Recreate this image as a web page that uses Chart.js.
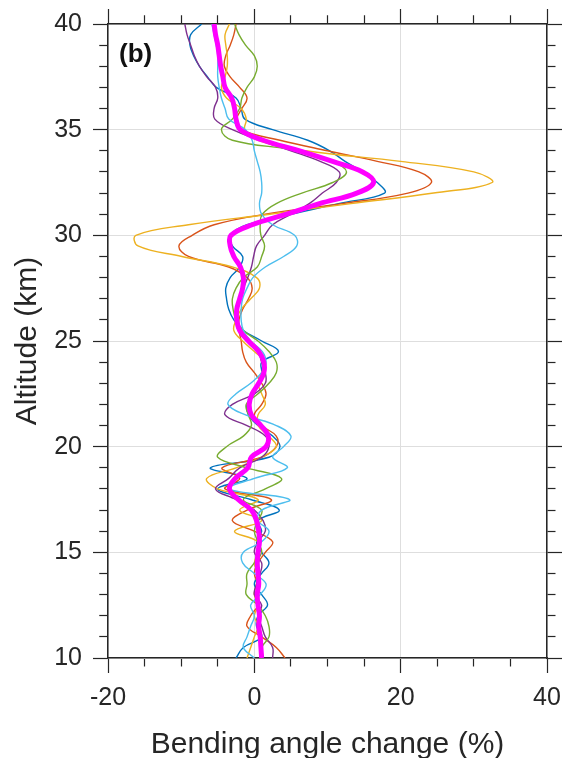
<!DOCTYPE html>
<html>
<head>
<meta charset="utf-8">
<script src="https://cdn.jsdelivr.net/npm/chart.js@4.4.1/dist/chart.umd.min.js"></script>
<style>
  html, body { margin: 0; padding: 0; background: #fff; }
  #wrap { position: relative; width: 564px; height: 758px; }
  #panelLabel {
    position: absolute; left: 119px; top: 40px;
    font: bold 26px "Liberation Sans", Arial, sans-serif;
    line-height: 26px; color: #111;
  }
</style>
</head>
<body>
<div id="wrap">
  <canvas id="profileChart" width="564" height="758"></canvas>
  <div id="panelLabel">(b)</div>
</div>
<script>
// altitude levels (km), top to bottom
const altitudeKm = [40, 39.5, 39, 38.5, 38, 37.5, 37, 36.5, 36, 35.5,
  35, 34.5, 34, 33.5, 33, 32.5, 32, 31.5, 31, 30.5,
  30, 29.5, 29, 28.5, 28, 27.5, 27, 26.5, 26, 25.5,
  25, 24.5, 24, 23.5, 23, 22.5, 22, 21.5, 21, 20.5,
  20, 19.5, 19, 18.5, 18, 17.5, 17, 16.5, 16, 15.5,
  15, 14.5, 14, 13.5, 13, 12.5, 12, 11.5, 11, 10.5,
  10];

// bending angle change (%) per profile, same order as altitudeKm
const profileBlue = [-7.2, -8.7, -8.8, -8.3, -7.5, -6.4, -5.2, -2.5, -1.8, -1.3,
  2.5, 7.3, 10.3, 12.4, 14.8, 16.8, 17.8, 11.5, 5.0, -1.0,
  -3.3, -3.0, -1.6, -2.0, -3.3, -3.9, -3.8, -3.5, -2.8, -1.5,
  1.0, 3.3, 1.0, 1.0, 0.5, 0.0, -1.0, -0.8, 0.5, 2.5,
  3.5, 2.0, -6.0, -1.0, -5.0, -0.5, 3.4, 0.5, 1.0, 0.3,
  1.0, 2.0, 1.0, 0.0, 1.0, 1.8, 0.5, 0.3, 1.0, -1.5,
  -2.5];
const profileOrange = [-2.5, -2.8, -3.3, -3.9, -4.1, -3.3, -2.0, -1.0, -1.7, -2.4,
  -1.8, 3.5, 10.0, 16.8, 22.5, 24.2, 21.0, 12.0, 1.5, -5.5,
  -8.5, -10.3, -9.0, -3.5, -1.0, -0.3, -0.8, -1.6, -2.1, -2.1,
  -1.8, -1.6, -1.1, 0.0, 1.0, 1.6, 1.0, 0.0, 1.0, 3.0,
  3.0, 1.0, -4.4, -2.0, -4.0, 2.3, -1.0, -3.0, 0.0, 2.5,
  1.5, 0.5, 0.0, 0.5, 0.5, 0.5, -0.5, -1.0, 1.0, 3.0,
  4.2];
const profileYellow = [-3.4, -4.0, -3.9, -3.7, -3.7, -4.0, -4.5, -3.8, -1.8, -1.1,
  -1.3, 0.5, 7.0, 20.0, 30.0, 32.5, 24.5, 13.2, 2.1, -9.0,
  -16.2, -15.9, -9.9, -3.0, 0.3, 0.7, -0.5, -1.8, -2.5, -2.8,
  -1.6, 0.0, 1.5, 1.0, 0.5, 1.0, 1.5, 0.5, 0.5, 2.0,
  3.0, 1.0, -2.5, -6.5, -5.0, 0.5, -2.0, 1.0, -2.7, 0.5,
  0.5, 0.0, 0.5, 0.3, 0.0, 0.5, 0.0, 0.5, 0.0, -0.5,
  -1.0];
const profilePurple = [-9.5, -9.2, -8.7, -8.2, -7.5, -6.5, -5.3, -5.0, -5.5, -5.4,
  -3.0, 0.8, 5.0, 9.0, 11.6, 11.2, 9.3, 7.5, 5.0, 2.5,
  1.4, 0.3, -0.1, -0.4, -0.9, -1.5, -2.0, -2.3, -2.5, -2.2,
  -1.0, 0.5, 1.0, 1.5, 1.5, 0.0, -3.0, -4.0, -1.0, 1.5,
  2.0, 1.0, -2.0, -3.5, -5.3, -2.5, 0.0, 1.2, 1.5, 0.5,
  0.0, 1.0, 0.8, 0.3, 0.0, 1.0, 0.5, 1.0, 1.5, 2.5,
  2.5];
const profileGreen = [-2.7, -2.1, -1.2, 0.0, 0.4, 0.0, -1.0, -1.7, -2.0, -3.0,
  -4.5, -3.0, 6.0, 10.7, 12.6, 10.7, 6.5, 3.0, 1.1, 0.8,
  0.9, 1.4, 1.0, 0.4, -1.5, -2.5, -3.0, -2.9, -2.5, -1.5,
  0.5, 2.0, 3.0, 3.0, 2.0, 0.5, -1.1, -0.8, -0.4, -1.5,
  -3.8, -5.0, -1.0, 3.7, 1.5, -1.5, 1.0, 0.5, 0.0, 0.5,
  1.0, 0.0, -1.0, -1.0, -1.1, 0.5, 1.5, 2.0, 2.0, 1.0,
  1.0];
const profileCyan = [-5.8, -5.5, -5.2, -5.0, -5.0, -5.0, -4.8, -4.5, -4.0, -3.5,
  -1.2, -0.3, 0.0, 0.4, 0.8, 1.0, 1.0, 0.7, 1.0, 2.5,
  5.5, 5.8, 4.0, 1.5, -0.2, -1.0, -1.6, -1.8, -1.8, -1.5,
  -0.5, 1.1, 1.6, 1.0, -0.5, -2.5, -3.6, -1.2, 3.0, 5.0,
  4.0, 2.5, 4.5, 0.0, -3.5, 4.8, 1.0, 0.5, 2.0, 1.0,
  -1.5, -1.6, 0.0, 1.6, 0.8, -0.5, 0.0, -0.5, -1.0, -1.5,
  0.0];
const profileMean = [-5.5, -5.3, -5.0, -4.8, -4.6, -4.3, -4.0, -3.1, -2.7, -2.5,
  -1.9, 1.2, 6.2, 10.7, 14.8, 16.3, 14.0, 8.9, 4.4, -0.3,
  -3.2, -3.3, -2.8, -1.9, -1.5, -1.6, -2.0, -2.4, -2.4, -2.0,
  -0.8, 0.6, 1.3, 1.3, 0.6, -0.3, -0.7, -0.4, 0.9, 1.9,
  1.6, -0.4, -0.9, -2.6, -3.4, -2.2, -0.4, 0.3, 0.6, 0.7,
  0.5, 0.4, 0.5, 0.6, 0.4, 0.5, 0.7, 0.6, 0.8, 0.9,
  1.0];

const axisColor = "#262626";
const gridColor = "#dedede";
const fontFamily = '"Liberation Sans", Arial, sans-serif';

function profile(values) {
  return values.map((v, i) => ({ x: v, y: altitudeKm[i] }));
}

function isMajor(value, step) {
  return Math.abs(value % step) < 1e-9;
}

// major ticks full length, minor ticks drawn only on the inner 8px
function tickGrid(step, outerFirst, onChart) {
  return {
    drawOnChartArea: onChart,
    color: ctx => (ctx.tick && isMajor(ctx.tick.value, step)) ? gridColor : "rgba(0,0,0,0)",
    lineWidth: 1,
    tickLength: 15,
    tickColor: axisColor,
    tickWidth: 1.2,
    tickBorderDash: ctx => (ctx.tick && isMajor(ctx.tick.value, step)) ? [] : (outerFirst ? [8, 8] : [8, 40]),
    tickBorderDashOffset: ctx => (ctx.tick && isMajor(ctx.tick.value, step)) ? 0 : (outerFirst ? 9.75 : 0)
  };
}

const border = { display: true, color: axisColor, width: 1.5 };

const thin = (data, color, order) => ({
  data: profile(data),
  borderColor: color,
  borderWidth: 1.4,
  order: order
});

new Chart(document.getElementById("profileChart"), {
  type: "scatter",
  data: {
    datasets: [
      { data: profile(profileMean), borderColor: "#FF00FF", borderWidth: 5, order: 0 },
      thin(profileCyan, "#4DBEEE", 1),
      thin(profileGreen, "#77AC30", 2),
      thin(profilePurple, "#7E2F8E", 3),
      thin(profileYellow, "#EDB120", 4),
      thin(profileOrange, "#D95319", 5),
      thin(profileBlue, "#0072BD", 6)
    ]
  },
  options: {
    responsive: false,
    animation: false,
    events: [],
    layout: { padding: 0 },
    datasets: {
      scatter: { showLine: true, pointRadius: 0, tension: 0.4, fill: false }
    },
    plugins: {
      legend: { display: false },
      tooltip: { enabled: false }
    },
    scales: {
      x: {
        type: "linear", position: "bottom", min: -20, max: 40,
        afterFit: s => { s.height = 100; s.paddingLeft = 0; s.paddingRight = 0; },
        ticks: {
          stepSize: 5, autoSkip: false, maxRotation: 0, padding: 10,
          color: axisColor, font: { family: fontFamily, size: 25 },
          callback: v => isMajor(v, 20) ? v : ""
        },
        grid: tickGrid(20, false, true),
        border: border,
        title: {
          display: true, text: "Bending angle change (%)", color: axisColor,
          font: { family: fontFamily, size: 30 }, padding: { top: 0, bottom: -5 }
        }
      },
      x2: {
        type: "linear", position: "top", min: -20, max: 40,
        afterFit: s => { s.height = 24; s.paddingLeft = 0; s.paddingRight = 0; },
        ticks: { stepSize: 5, autoSkip: false, display: false },
        grid: tickGrid(20, true, false),
        border: border
      },
      y: {
        type: "linear", position: "left", min: 10, max: 40,
        afterFit: s => { s.width = 108; s.paddingTop = 0; s.paddingBottom = 0; },
        ticks: {
          stepSize: 1, autoSkip: false, padding: 11,
          color: axisColor, font: { family: fontFamily, size: 25 },
          callback: v => isMajor(v, 5) ? v : ""
        },
        grid: tickGrid(5, true, true),
        border: border,
        title: {
          display: true, text: "Altitude (km)", color: axisColor,
          font: { family: fontFamily, size: 30 }, padding: { top: 10, bottom: 0 }
        }
      },
      y2: {
        type: "linear", position: "right", min: 10, max: 40,
        afterFit: s => { s.width = 17; s.paddingTop = 0; s.paddingBottom = 0; },
        ticks: { stepSize: 1, autoSkip: false, display: false },
        grid: tickGrid(5, false, false),
        border: border
      }
    }
  }
});
</script>
</body>
</html>
